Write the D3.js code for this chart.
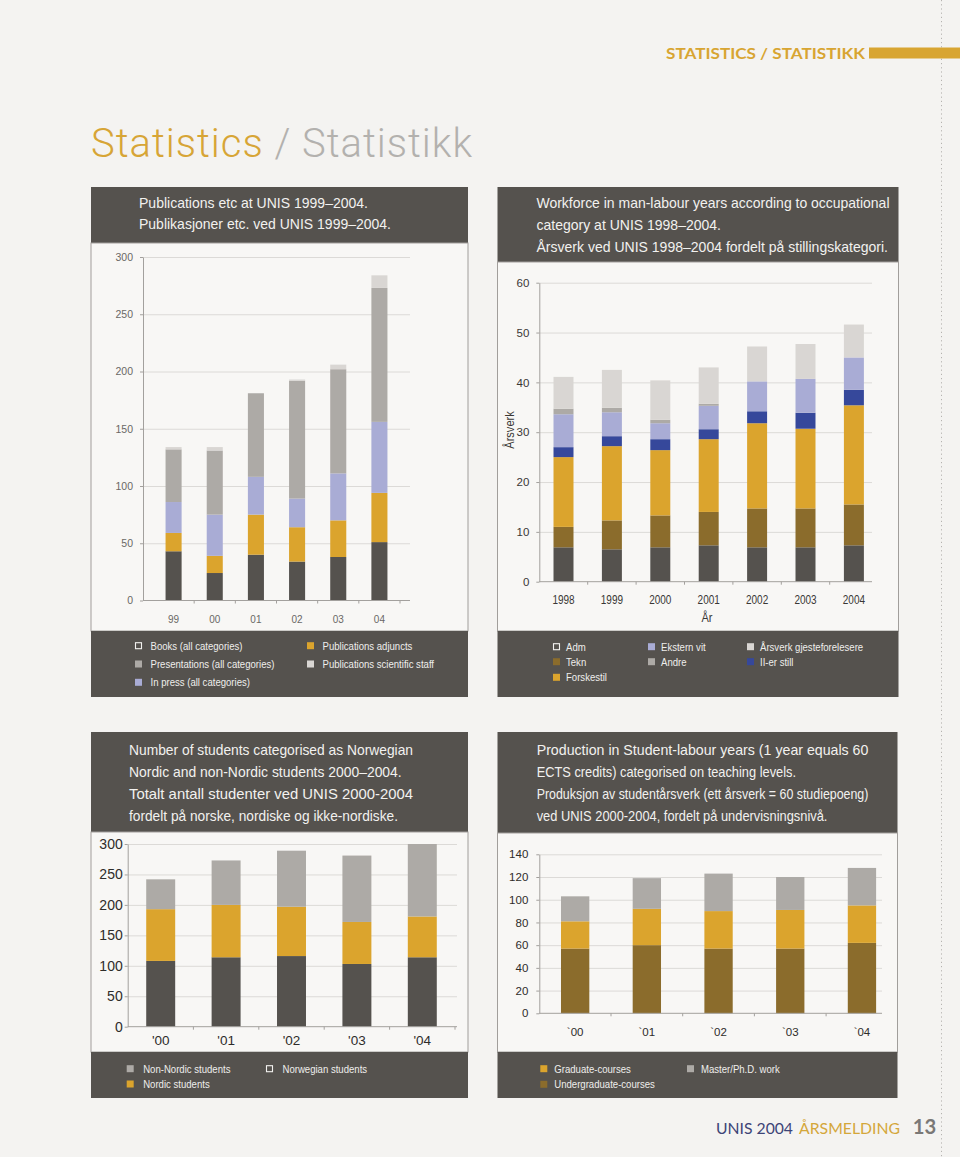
<!DOCTYPE html>
<html><head><meta charset="utf-8">
<script src="https://cdn.jsdelivr.net/npm/d3@7"></script>
<style>html,body{margin:0;padding:0;background:#f4f3f1;} svg{display:block;}</style>
</head><body>
<script>
// ---------------- DATA ----------------
const pubYears = ["99","00","01","02","03","04"];
const pubBooks = [43,24,40,34,38,51];
const pubAdjuncts = [16,15,35,30,32,43];
const pubInPress = [27,36,33,25,41,62];
const pubPresentations = [46,56,73,103,91,117];
const pubSciStaff = [2,3,0,1,4,11];
const pubTicks = [0,50,100,150,200,250,300];

const wfYears = ["1998","1999","2000","2001","2002","2003","2004"];
const wfAdm = [6.9,6.5,6.9,7.3,6.9,6.9,7.3];
const wfTekn = [4.1,5.8,6.4,6.7,7.8,7.8,8.2];
const wfForskestil = [14.0,14.9,13.1,14.6,17.1,16.0,19.9];
const wfIIerStill = [2.0,2.0,2.2,2.0,2.4,3.2,3.1];
const wfEksternVit = [6.6,4.8,3.2,4.7,6.0,6.8,6.5];
const wfAndre = [1.1,0.9,0.7,0.4,0,0,0];
const wfGjest = [6.4,7.6,7.9,7.3,7.0,7.0,6.6];
const wfTicks = [0,10,20,30,40,50,60];

const stYears = ["'00","'01","'02","'03","'04"];
const stNorwegian = [108,114,116,103,114];
const stNordic = [85,86,81,69,67];
const stNonNordic = [49,73,92,109,119];
const stTicks = [0,50,100,150,200,250,300];

const prYears = ["`00","`01","`02","`03","`04"];
const prUndergrad = [57,60,57,57,62];
const prGraduate = [24,32,33,34,33];
const prMaster = [22,27,33,29,33];
const prTicks = [0,20,40,60,80,100,120,140];

// ---------------- STYLE ----------------
const FONT = "'Liberation Sans', Arial, sans-serif";
const C = {dark:"#55524e", gold:"#dba42d", brown:"#8b6c2c", gray:"#adaaa6",
           light:"#d9d6d3", lav:"#a9acd5", blue:"#36489b"};
const GRID = "#dcdad7", AX = "#a3a09d", BOX = "#55524e", PANEL = "#f8f7f5";

const svg = d3.select("body").append("svg").attr("width",960).attr("height",1157)
  .style("font-family",FONT);
svg.append("rect").attr("width",960).attr("height",1157).attr("fill","#f4f3f1");

function squeeze(sel, ratio){
  sel.each(function(){
    const l = this.getComputedTextLength();
    d3.select(this).attr("textLength", l*ratio).attr("lengthAdjust","spacingAndGlyphs");
  });
}

// dotted page line
svg.append("line").attr("x1",941.5).attr("x2",941.5).attr("y1",0).attr("y2",1157)
  .attr("stroke","#b5b3b0").attr("stroke-dasharray","1.2,3");

// top banner
svg.append("text").attr("x",666).attr("y",58.5).text("STATISTICS / STATISTIKK")
  .attr("font-family","Lato, 'Open Sans', sans-serif").attr("font-weight",700)
  .attr("font-size",15).attr("fill","#d8a532")
  .attr("textLength",199).attr("lengthAdjust","spacingAndGlyphs");
svg.append("rect").attr("x",869).attr("y",47.5).attr("width",91).attr("height",11).attr("fill","#d8a532");

// title
const title = svg.append("text").attr("x",91).attr("y",157)
  .attr("font-family","Roboto, 'Liberation Sans', sans-serif").attr("font-weight",300)
  .attr("font-size",40).attr("textLength",381).attr("lengthAdjust","spacing");
title.append("tspan").attr("fill","#d7a536").text("Statistics");
title.append("tspan").attr("fill","#b3b1ae").text(" / Statistikk");

// ---------------- PANELS ----------------
function panel(p){
  svg.append("rect").attr("x",p.x).attr("y",p.hy0).attr("width",p.w).attr("height",p.cy0-p.hy0).attr("fill",BOX);
  svg.append("rect").attr("x",p.x).attr("y",p.cy0).attr("width",p.w).attr("height",p.ly0-p.cy0)
    .attr("fill",PANEL).attr("stroke","#a19e9b").attr("stroke-width",1);
  svg.append("rect").attr("x",p.x).attr("y",p.ly0).attr("width",p.w).attr("height",p.ly1-p.ly0).attr("fill",BOX);
  p.lines.forEach((t,i)=>{
    svg.append("text").attr("x",p.tx).attr("y",p.base[i]).text(t)
      .attr("font-size",15).attr("fill","#f2f1ef")
      .attr("textLength",p.widths[i]).attr("lengthAdjust","spacingAndGlyphs");
  });
}

panel({x:91,w:377,hy0:187,cy0:243,ly0:631,ly1:697,tx:139,
  lines:["Publications etc at UNIS 1999–2004.","Publikasjoner etc. ved UNIS 1999–2004."],
  base:[208,228.5],widths:[229,252]});
panel({x:497.5,w:401,hy0:187,cy0:262,ly0:631,ly1:697,tx:536.5,
  lines:["Workforce in man-labour years according to occupational","category at UNIS 1998–2004.","Årsverk ved UNIS 1998–2004 fordelt på stillingskategori."],
  base:[208,230,252],widths:[353,184.5,351.5]});
panel({x:91,w:377,hy0:732,cy0:832,ly0:1052,ly1:1098,tx:129,
  lines:["Number of students categorised as Norwegian","Nordic and non-Nordic students 2000–2004.","Totalt antall studenter ved UNIS 2000-2004","fordelt på norske, nordiske og ikke-nordiske."],
  base:[755,777,799,821],widths:[284,272.7,284,269]});
panel({x:497.5,w:400,hy0:732,cy0:833,ly0:1052,ly1:1098,tx:536.7,
  lines:["Production in Student-labour years (1 year equals 60","ECTS credits) categorised on teaching levels.","Produksjon av studentårsverk (ett årsverk = 60 studiepoeng)","ved UNIS 2000-2004, fordelt på undervisningsnivå."],
  base:[755,777,799,821],widths:[331.7,259.3,331.7,290.7]});

// ---------------- CHARTS ----------------
function stackedChart(o){
  const g = svg.append("g");
  const x = d3.scaleBand().domain(o.cats).range([o.bx0,o.bx1]).paddingInner(o.pad).paddingOuter(o.pad/2);
  const y = d3.scaleLinear().domain([0,o.yMax]).range([o.yBottom,o.yTop]);
  // grid
  g.append("g").attr("transform",`translate(${o.axisX},0)`)
    .call(d3.axisLeft(y).tickValues(o.ticks.filter(t=>t>0)).tickSize(-(o.gridX1-o.axisX)).tickFormat(""))
    .call(s=>s.select(".domain").remove())
    .call(s=>s.selectAll("line").attr("stroke",GRID));
  // bars
  const keys = o.layers.map(l=>l.key);
  const rows = o.cats.map((c,i)=>{const r={cat:c}; o.layers.forEach(l=>r[l.key]=l.values[i]); return r;});
  const series = d3.stack().keys(keys)(rows);
  g.append("g").selectAll("g").data(series).join("g").attr("fill",(d,i)=>o.layers[i].color)
    .selectAll("rect").data(d=>d).join("rect")
    .attr("x",d=>x(d.data.cat)).attr("width",x.bandwidth())
    .attr("y",d=>y(d[1])).attr("height",d=>Math.max(0,y(d[0])-y(d[1])));
  // y axis
  const ya = g.append("g").attr("transform",`translate(${o.axisX},0)`)
    .call(d3.axisLeft(y).tickValues(o.ticks).tickSize(3).tickSizeOuter(0).tickPadding(o.yPad));
  ya.select(".domain").attr("stroke",AX);
  ya.selectAll(".tick line").attr("stroke",AX);
  ya.selectAll("text").attr("font-size",o.yFont).attr("fill",o.labelColor).attr("font-family",FONT);
  // x axis line
  g.append("line").attr("x1",o.axisX).attr("x2",o.gridX1).attr("y1",o.yBottom).attr("y2",o.yBottom).attr("stroke",AX);
  // boundary ticks
  const bounds = d3.range(1,o.cats.length+1).map(i=>o.bx0+i*x.step()).filter(v=>v<=o.gridX1+0.5);
  g.append("g").selectAll("line").data(bounds).join("line")
    .attr("x1",d=>d).attr("x2",d=>d).attr("y1",o.yBottom).attr("y2",o.yBottom+3).attr("stroke",AX);
  const xa = g.append("g").attr("transform",`translate(0,${o.yBottom})`)
    .call(d3.axisBottom(x).tickSize(0));
  xa.select(".domain").remove();
  const xt = xa.selectAll("text").attr("dy",null).attr("y",o.xBase-o.yBottom)
    .attr("font-size",o.xFont).attr("fill",o.labelColor).attr("font-family",FONT);
  if(o.xSqueeze) squeeze(xt,o.xSqueeze);
  return {x,y,g};
}

stackedChart({cats:pubYears, yMax:300, ticks:pubTicks,
  layers:[{key:"books",values:pubBooks,color:C.dark},{key:"adj",values:pubAdjuncts,color:C.gold},
          {key:"press",values:pubInPress,color:C.lav},{key:"pres",values:pubPresentations,color:C.gray},
          {key:"sci",values:pubSciStaff,color:C.light}],
  bx0:153, bx1:400, pad:0.61, yBottom:600.5, yTop:257, axisX:143, gridX1:410,
  yPad:7, yFont:10.5, xBase:623, xFont:10.5, labelColor:"#6a6865", xSqueeze:0.95});

const wf = stackedChart({cats:wfYears, yMax:60, ticks:wfTicks,
  layers:[{key:"adm",values:wfAdm,color:C.dark},{key:"tekn",values:wfTekn,color:C.brown},
          {key:"forsk",values:wfForskestil,color:C.gold},{key:"iier",values:wfIIerStill,color:C.blue},
          {key:"ekst",values:wfEksternVit,color:C.lav},{key:"andre",values:wfAndre,color:C.gray},
          {key:"gjest",values:wfGjest,color:C.light}],
  bx0:539.3, bx1:878.1, pad:0.587, yBottom:581.7, yTop:282.7, axisX:539.3, gridX1:872,
  yPad:7, yFont:11.5, xBase:604.5, xFont:12.5, labelColor:"#3a3836", xSqueeze:0.8});
const yt = svg.append("text").attr("transform","translate(514,430) rotate(-90)").attr("text-anchor","middle")
  .attr("font-size",13).attr("fill","#3a3836").text("Årsverk");
squeeze(yt,0.85);
const xtl = svg.append("text").attr("x",707).attr("y",621.5).attr("text-anchor","middle")
  .attr("font-size",13).attr("fill","#3a3836").text("År");
squeeze(xtl,0.85);

stackedChart({cats:stYears, yMax:300, ticks:stTicks,
  layers:[{key:"nor",values:stNorwegian,color:C.dark},{key:"nordic",values:stNordic,color:C.gold},
          {key:"non",values:stNonNordic,color:C.gray}],
  bx0:128, bx1:455, pad:0.557, yBottom:1026.7, yTop:844, axisX:127.7, gridX1:457,
  yPad:2, yFont:14, xBase:1045.5, xFont:13.5, labelColor:"#2e2c2a"});

stackedChart({cats:prYears, yMax:140, ticks:prTicks,
  layers:[{key:"ug",values:prUndergrad,color:C.brown},{key:"gr",values:prGraduate,color:C.gold},
          {key:"ms",values:prMaster,color:C.gray}],
  bx0:539.3, bx1:897.8, pad:0.605, yBottom:1013.3, yTop:854.3, axisX:539.3, gridX1:882,
  yPad:8, yFont:11.5, xBase:1035.7, xFont:11.5, labelColor:"#2e2c2a"});

// ---------------- LEGENDS ----------------
function legend(items, colX, textOff, rowY){
  items.forEach(it=>{
    const sx = colX[it.col], sy = rowY[it.row];
    const r = svg.append("rect").attr("x",sx).attr("y",sy-3.5).attr("width",7).attr("height",7);
    if(it.hollow) r.attr("fill","none").attr("stroke","#f2f1ef").attr("stroke-width",1.1)
                   .attr("x",sx+0.5).attr("y",sy-3).attr("width",6).attr("height",6);
    else r.attr("fill",it.color);
    const t = svg.append("text").attr("x",sx+textOff).attr("y",sy+4).attr("font-size",11)
      .attr("fill","#efeeec").text(it.label);
    squeeze(t,0.87);
  });
}
legend([{label:"Books (all categories)",hollow:true,col:0,row:0},
        {label:"Presentations (all categories)",color:C.gray,col:0,row:1},
        {label:"In press (all categories)",color:C.lav,col:0,row:2},
        {label:"Publications adjuncts",color:C.gold,col:1,row:0},
        {label:"Publications scientific staff",color:C.light,col:1,row:1}],
       [135,307],15.5,[645.7,664,682.3]);
legend([{label:"Adm",hollow:true,col:0,row:0},
        {label:"Tekn",color:C.brown,col:0,row:1},
        {label:"Forskestil",color:C.gold,col:0,row:2},
        {label:"Ekstern vit",color:C.lav,col:1,row:0},
        {label:"Andre",color:C.gray,col:1,row:1},
        {label:"Årsverk gjesteforelesere",color:C.light,col:2,row:0},
        {label:"II-er still",color:C.blue,col:2,row:1}],
       [553,648,747],13,[646.7,661.7,677.3]);
legend([{label:"Non-Nordic students",color:C.gray,col:0,row:0},
        {label:"Nordic students",color:C.gold,col:0,row:1},
        {label:"Norwegian students",hollow:true,col:1,row:0}],
       [126.7,266],16.5,[1068.7,1084]);
legend([{label:"Graduate-courses",color:C.gold,col:0,row:0},
        {label:"Undergraduate-courses",color:C.brown,col:0,row:1},
        {label:"Master/Ph.D. work",color:C.gray,col:1,row:0}],
       [540.3,687],14,[1068.7,1084.3]);

// ---------------- FOOTER ----------------
const FF = "Lato, 'Open Sans', sans-serif";
svg.append("text").attr("x",716).attr("y",1134).attr("font-family",FF).attr("font-size",15)
  .attr("fill","#3d4477").attr("textLength",77).attr("lengthAdjust","spacingAndGlyphs").text("UNIS 2004");
svg.append("text").attr("x",799).attr("y",1134).attr("font-family",FF).attr("font-size",15)
  .attr("fill","#d4a73a").attr("textLength",101).attr("lengthAdjust","spacingAndGlyphs").text("ÅRSMELDING");
svg.append("text").attr("x",912.7).attr("y",1134).attr("font-family",FF).attr("font-size",21).attr("font-weight",700)
  .attr("fill","#7a7876").attr("textLength",23.5).attr("lengthAdjust","spacingAndGlyphs").text("13");
</script>
</body></html>
